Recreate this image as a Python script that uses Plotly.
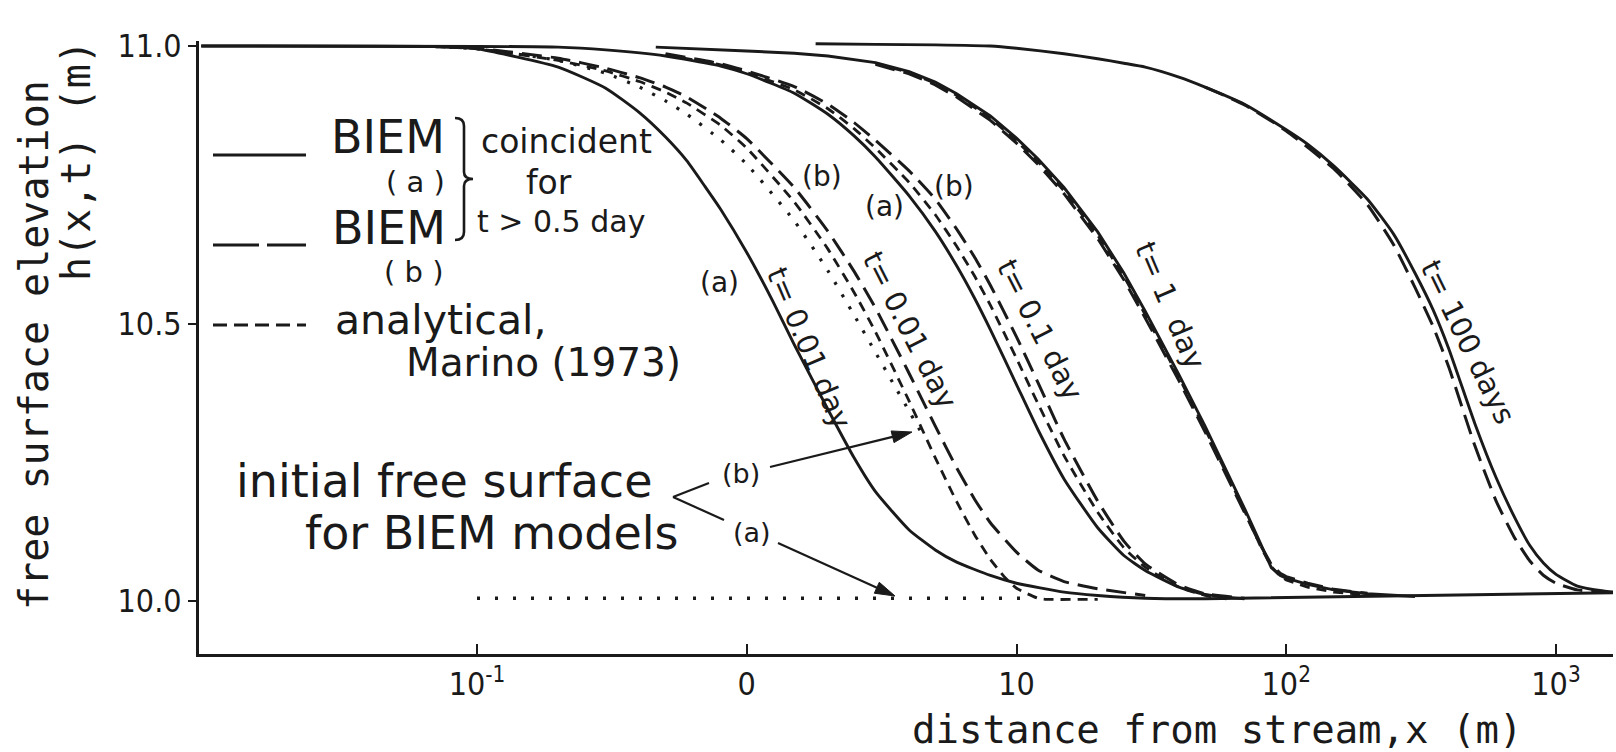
import math
import plotly.graph_objects as go

# ---------------- data (x in metres, y = free surface elevation in m) ----------------
# t = 0.01 day
x_a001 = [0.0095, 0.07, 0.1, 0.2, 0.3, 0.4, 0.5, 0.6, 0.7, 0.8, 1, 1.25, 1.5, 2, 2.5, 3, 4, 5, 6, 8, 10, 15, 20, 30,
          50, 1650]
y_a001 = [11.0, 10.999, 10.995, 10.962, 10.924, 10.880, 10.836, 10.793, 10.747, 10.706, 10.628, 10.540, 10.462,
          10.345, 10.258, 10.197, 10.128, 10.092, 10.070, 10.046, 10.032, 10.016, 10.010, 10.005, 10.004, 10.015]
x_b001 = [0.07, 0.1, 0.2, 0.3, 0.4, 0.5, 0.6, 0.8, 1, 1.5, 2, 2.5, 3, 4, 5, 6, 7, 8, 10, 12, 15, 20, 30]
y_b001 = [10.999, 10.996, 10.978, 10.960, 10.943, 10.926, 10.908, 10.870, 10.833, 10.745, 10.666, 10.594, 10.528,
          10.410, 10.315, 10.240, 10.183, 10.141, 10.088, 10.056, 10.035, 10.022, 10.010]
x_an001 = [0.07, 0.1, 0.2, 0.3, 0.4, 0.5, 0.6, 0.8, 1, 1.5, 2, 2.5, 3, 4, 5, 6, 7, 8, 9, 10, 12, 13, 20]
y_an001 = [10.999, 10.995, 10.974, 10.955, 10.936, 10.917, 10.897, 10.857, 10.816, 10.719, 10.634, 10.556, 10.485,
           10.360, 10.258, 10.179, 10.119, 10.075, 10.044, 10.023, 10.005, 10.003, 10.003]
# initial free surfaces of the BIEM models
x_init_b = [0.07, 0.1, 0.2, 0.3, 0.4, 0.5, 0.6, 0.8, 1, 1.5, 2, 2.5, 3, 3.5, 4, 4.5]
y_init_b = [10.999, 10.995, 10.974, 10.951, 10.926, 10.901, 10.877, 10.831, 10.787, 10.685, 10.595, 10.515,
            10.448, 10.391, 10.342, 10.298]
x_init_a = [0.1, 10.5]
y_init_a = [10.005, 10.005]
# t = 0.1 day
x_a01 = [0.0095, 0.2, 0.3, 0.5, 0.8, 1, 1.5, 2, 2.5, 3, 4, 5, 6, 7, 8, 10, 12, 15, 20, 25, 30, 40, 50, 70]
y_a01 = [11.0, 10.998, 10.993, 10.982, 10.964, 10.950, 10.915, 10.877, 10.838, 10.800, 10.730, 10.666, 10.604,
         10.545, 10.489, 10.390, 10.309, 10.220, 10.132, 10.082, 10.055, 10.025, 10.012, 10.004]
x_an01 = [0.5, 0.8, 1, 1.5, 2, 2.5, 3, 4, 5, 6, 7, 8, 10, 12, 15, 20, 25, 30, 40, 50, 60]
y_an01 = [10.984, 10.966, 10.952, 10.921, 10.887, 10.851, 10.816, 10.754, 10.696, 10.639, 10.585, 10.533, 10.437,
          10.356, 10.262, 10.160, 10.096, 10.061, 10.025, 10.010, 10.004]
x_b01 = [0.5, 0.8, 1, 1.5, 2, 2.5, 3, 4, 5, 6, 7, 8, 10, 12, 15, 20, 25, 30, 40, 50, 70]
y_b01 = [10.986, 10.968, 10.955, 10.927, 10.895, 10.862, 10.830, 10.775, 10.724, 10.670, 10.619, 10.569, 10.476,
         10.394, 10.292, 10.180, 10.108, 10.067, 10.029, 10.013, 10.005]
# t = 1 day
x_a1 = [0.46, 0.6, 1, 1.5, 2, 3, 4, 5, 6, 8, 10, 12, 15, 20, 25, 30, 40, 50, 60, 70, 80, 88, 95, 100, 120, 150,
        200, 300]
y_a1 = [10.998, 10.996, 10.991, 10.987, 10.982, 10.970, 10.954, 10.935, 10.914, 10.874, 10.834, 10.797, 10.745,
        10.665, 10.591, 10.522, 10.408, 10.315, 10.236, 10.167, 10.105, 10.060, 10.046, 10.041, 10.030, 10.020,
        10.013, 10.008]
x_b1 = [3, 4, 5, 6, 8, 10, 12, 15, 20, 25, 30, 40, 50, 60, 70, 80, 88, 95, 100, 120, 150, 200]
y_b1 = [10.967, 10.950, 10.930, 10.908, 10.866, 10.825, 10.787, 10.734, 10.653, 10.579, 10.510, 10.397, 10.305,
        10.227, 10.160, 10.102, 10.066, 10.050, 10.044, 10.032, 10.021, 10.014]
x_an1 = [3, 4, 5, 6, 8, 10, 12, 15, 20, 25, 30, 40, 50, 60, 70, 80, 88, 95, 100, 120, 150, 200]
y_an1 = [10.969, 10.952, 10.933, 10.911, 10.870, 10.829, 10.792, 10.739, 10.659, 10.585, 10.516, 10.403, 10.310,
         10.231, 10.163, 10.100, 10.062, 10.045, 10.038, 10.025, 10.016, 10.011]
# t = 100 days
x_a100 = [1.8, 3, 5, 8, 10, 15, 20, 25, 30, 40, 50, 70, 100, 120, 150, 200, 250, 300, 350, 400, 500, 600, 700,
          800, 900, 1000, 1200, 1500, 1650]
y_a100 = [11.004, 11.003, 11.002, 11.0, 10.996, 10.986, 10.977, 10.969, 10.962, 10.944, 10.926, 10.895, 10.849,
          10.823, 10.784, 10.724, 10.661, 10.591, 10.525, 10.455, 10.320, 10.222, 10.152, 10.100, 10.068, 10.048,
          10.027, 10.018, 10.016]
x_b100 = [50, 70, 100, 150, 200, 250, 300, 350, 400, 500, 600, 700, 800, 900, 1000, 1200, 1500]
y_b100 = [10.926, 10.894, 10.847, 10.779, 10.714, 10.642, 10.565, 10.495, 10.422, 10.280, 10.180, 10.115, 10.072,
          10.046, 10.032, 10.020, 10.017]

tick_x_vals = [0.1, 1, 10, 100, 1000]
tick_x_text = ["10<sup>-1</sup>", "0", "10", "10<sup>2</sup>", "10<sup>3</sup>"]
tick_y_vals = [10.0, 10.5, 11.0]
tick_y_text = ["10.0", "10.5", "11.0"]

# ---------------- styling ----------------
INK = "#1a1a1a"
SANS = "DejaVu Sans"
MONO = "DejaVu Sans Mono"
NARROW = "Liberation Sans Narrow, DejaVu Sans Condensed, Liberation Sans"
SOLID = dict(color=INK, width=2.9)
LONG = dict(color=INK, width=3.0, dash="20px,9px")
SHORT = dict(color=INK, width=2.8, dash="10px,7px")
DOTB = dict(color=INK, width=3.2, dash="3px,11px")
DOTA = dict(color=INK, width=3.6, dash="3px,15px")

W, H = 1616, 752
L, R, T, B = 199, 3, 41, 98


def P(xp, yp):
    """pixel position on the page -> paper coordinates"""
    return (xp - L) / (W - L - R), (H - B - yp) / (H - T - B)


fig = go.Figure()


def add(x, y, line, shape="spline"):
    fig.add_trace(go.Scatter(x=x, y=y, mode="lines", line=dict(**line, shape=shape, smoothing=0.5),
                             hoverinfo="skip", showlegend=False))


add(x_a001, y_a001, SOLID)
add(x_init_b, y_init_b, DOTB)
add(x_an001, y_an001, SHORT)
add(x_b001, y_b001, LONG)
add(x_init_a, y_init_a, DOTA, "linear")
add(x_a01, y_a01, SOLID)
add(x_an01, y_an01, SHORT)
add(x_b01, y_b01, LONG)
add(x_a1, y_a1, SOLID, "linear")
add(x_an1, y_an1, SHORT, "linear")
add(x_b1, y_b1, LONG, "linear")
add(x_a100, y_a100, SOLID)
add(x_b100, y_b100, LONG)

ann = []


def text(s, xp, yp, size, family=SANS, angle=0):
    x, y = P(xp, yp)
    ann.append(dict(text=s, x=x, y=y, xref="paper", yref="paper", showarrow=False,
                    xanchor="center", yanchor="middle", textangle=angle,
                    font=dict(family=family, size=size, color=INK)))


# legend block
text("BIEM", 388, 137, 46)
text("( a )", 415, 182, 29)
text("BIEM", 389, 228, 46)
text("( b )", 413, 272, 29)
text("coincident", 566, 141, 33)
text("for", 549, 182, 33)
text("t > 0.5 day", 561, 221, 30)
text("analytical,", 440, 320, 41)
text("Marino (1973)", 543, 362, 39)
# initial surface note
text("initial free surface", 444, 481, 46)
text("for BIEM models", 492, 533, 46)
text("(b)", 741, 473, 27)
text("(a)", 752, 532, 27)
# curve labels
text("t= 0.01 day", 809, 348, 29, angle=67)
text("t= 0.01 day", 910, 330, 29, angle=63)
text("t= 0.1 day", 1040, 330, 29, angle=63)
text("t= 1  day", 1170, 305, 29, angle=67)
text("t= 100 days", 1468, 342, 29, angle=64)
text("(a)", 719, 282, 28)
text("(b)", 822, 176, 28)
text("(a)", 884, 207, 28)
text("(b)", 954, 187, 28)
# axis titles
text("distance from stream,x (m)", 1217, 729, 39, MONO)
text("free surface elevation", 34, 345, 40, MONO, -90)
text("h(x,t) (m)", 76, 160, 40, MONO, -90)

shapes = []


def seg(x0, y0, x1, y1, width=2.8, dash="solid"):
    a = P(x0, y0)
    b = P(x1, y1)
    shapes.append(dict(type="line", xref="paper", yref="paper", x0=a[0], y0=a[1], x1=b[0], y1=b[1],
                       line=dict(color=INK, width=width, dash=dash)))


def fmt(p):
    q = P(*p)
    return "{:.5f},{:.5f}".format(q[0], q[1])


def arrow(x_tail, y_tail, x_tip, y_tip, head=20, half=6):
    dx, dy = x_tip - x_tail, y_tip - y_tail
    n = math.hypot(dx, dy)
    ux, uy = dx / n, dy / n
    bx, by = x_tip - head * ux, y_tip - head * uy
    seg(x_tail, y_tail, bx + 2 * ux, by + 2 * uy, 2.2)
    c1 = (bx - half * uy, by + half * ux)
    c2 = (bx + half * uy, by - half * ux)
    shapes.append(dict(type="path", xref="paper", yref="paper",
                       path="M " + fmt((x_tip, y_tip)) + " L " + fmt(c1) + " L " + fmt(c2) + " Z",
                       fillcolor=INK, line=dict(color=INK, width=1)))


arrow(770, 467, 912, 432)
arrow(778, 543, 895, 596)

# legend line samples
seg(213, 155, 306, 155)
seg(213, 245, 306, 245, 3.0, "46px,8px")
seg(213, 325, 306, 325, 2.8, "14px,7px")
# bracket of the initial-surface note
seg(709, 483, 673, 497, 2.2)
seg(673, 497, 724, 520, 2.2)

# curly brace of the legend
path = ("M " + fmt((455, 118)) + " Q " + fmt((464, 118)) + " " + fmt((464, 126)) +
        " L " + fmt((464, 172)) + " Q " + fmt((464, 179)) + " " + fmt((473, 179)) +
        " Q " + fmt((464, 179)) + " " + fmt((464, 186)) +
        " L " + fmt((464, 232)) + " Q " + fmt((464, 240)) + " " + fmt((455, 240)))
shapes.append(dict(type="path", xref="paper", yref="paper", path=path, line=dict(color=INK, width=2.6)))

fig.update_layout(
    width=W, height=H,
    margin=dict(l=L, r=R, t=T, b=B, pad=0),
    paper_bgcolor="white", plot_bgcolor="white",
    showlegend=False,
    annotations=ann, shapes=shapes,
    xaxis=dict(type="log", range=[-2.0306, 3.2113], showline=True, linewidth=3, linecolor=INK,
               ticks="inside", ticklen=10, tickwidth=2, tickcolor=INK,
               tickvals=tick_x_vals, ticktext=tick_x_text, ticklabelstandoff=0,
               tickfont=dict(family=NARROW, size=32, color=INK),
               showgrid=False, zeroline=False),
    yaxis=dict(range=[9.9045, 11.009], showline=True, linewidth=3, linecolor=INK,
               ticks="outside", ticklen=8, tickwidth=2, tickcolor=INK,
               tickvals=tick_y_vals, ticktext=tick_y_text, ticklabelstandoff=0,
               tickfont=dict(family=NARROW, size=32, color=INK),
               showgrid=False, zeroline=False),
)

fig.write_html("out.html")
